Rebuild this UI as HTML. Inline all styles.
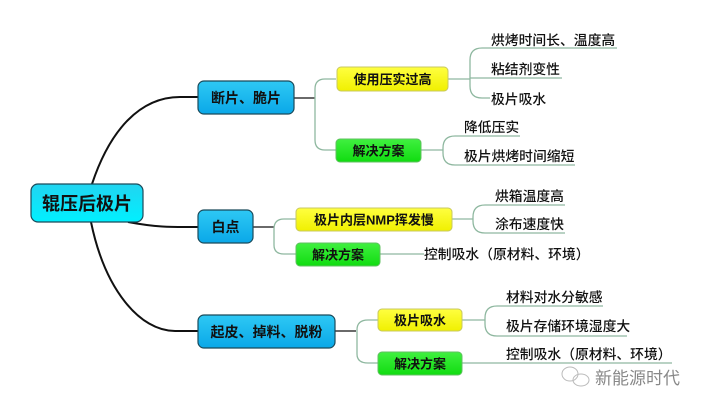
<!DOCTYPE html>
<html><head><meta charset="utf-8"><style>
html,body{margin:0;padding:0;background:#fff;}
svg{display:block;}
text{font-family:"Liberation Sans","Noto Sans CJK SC",sans-serif;fill:#111;}
.b{font-weight:bold;}
</style></head><body>
<svg width="702" height="406" viewBox="0 0 702 406" xmlns="http://www.w3.org/2000/svg">
<defs>
<linearGradient id="gr" x1="0" y1="0" x2="0" y2="1"><stop offset="0" stop-color="#22d4f0"/><stop offset="1" stop-color="#00f0ff"/></linearGradient>
<linearGradient id="gb" x1="0" y1="0" x2="0" y2="1"><stop offset="0" stop-color="#2ec8f4"/><stop offset="1" stop-color="#0aa8e8"/></linearGradient>
<linearGradient id="gy" x1="0" y1="0" x2="0" y2="1"><stop offset="0" stop-color="#ffff40"/><stop offset="1" stop-color="#f0f000"/></linearGradient>
<linearGradient id="gg" x1="0" y1="0" x2="0" y2="1"><stop offset="0" stop-color="#40f040"/><stop offset="1" stop-color="#10dc10"/></linearGradient>
</defs>
<g fill="none" stroke="#111" stroke-width="2">
<path d="M92,184 C110,130 140,97 180,97 L198,97"/>
<path d="M128,222 C160,228 175,227 198,227"/>
<path d="M91,222 C105,290 140,331 175,331 L198,331"/>
</g>
<g fill="none" stroke="#111" stroke-width="1.3">
<path d="M294,98 L315,98"/>
<path d="M253,227 L274,227"/>
<path d="M335,331 L356,331"/>
</g>
<g fill="none" stroke="#8fb8a0" stroke-width="1.3">
<path d="M336,79 L325,79 Q315,79 315,89 L315,140 Q315,150 325,150 L336,150"/>
<path d="M296,219 L284,219 Q274,219 274,229 L274,245 Q274,254 284,254 L296,254"/>
<path d="M378,320 L368,320 Q357,320 357,330 L357,354 Q357,363 368,363 L378,363"/>
<path d="M448,79 L470,79"/>
<path d="M617,48 L482,48 Q470,48 470,60 L470,86 Q470,98 482,98 L490,98"/>
<path d="M470,78 L562,78"/>
<path d="M421,150 L443,150"/>
<path d="M520,136 L455,136 Q443,136 443,148 L443,153 Q443,165 455,165 L575,165"/>
<path d="M452,219 L473,219"/>
<path d="M565,205 L485,205 Q473,205 473,217 L473,221 Q473,233 485,233 L565,233"/>
<path d="M380,254 L424,254"/>
<path d="M462,320 L485,320"/>
<path d="M603,306 L497,306 Q485,306 485,318 L485,324 Q485,336 497,336 L627,336"/>
<path d="M462,363 L672,363"/>
</g>
<rect x="31" y="184" width="112" height="38" rx="7" fill="url(#gr)" stroke="#1a4a5a" stroke-width="1.2"/>
<text x="87" y="210" font-size="18" text-anchor="middle" class="b">辊压后极片</text>
<rect x="198" y="81" width="96" height="33" rx="6" fill="url(#gb)" stroke="#1a4a5a" stroke-width="1.2"/>
<text x="246" y="103" font-size="14" text-anchor="middle" class="b">断片、脆片</text>
<rect x="198" y="210" width="55" height="33" rx="6" fill="url(#gb)" stroke="#1a4a5a" stroke-width="1.2"/>
<text x="225.5" y="232" font-size="14" text-anchor="middle" class="b">白点</text>
<rect x="198" y="315" width="137" height="33" rx="6" fill="url(#gb)" stroke="#1a4a5a" stroke-width="1.2"/>
<text x="266.5" y="337" font-size="14" text-anchor="middle" class="b">起皮、掉料、脱粉</text>
<rect x="337" y="67" width="111" height="24" rx="4" fill="url(#gy)" stroke="#c8c860"/>
<text x="392.5" y="84" font-size="13" text-anchor="middle" class="b">使用压实过高</text>
<rect x="336" y="139" width="85" height="23" rx="4" fill="url(#gg)" stroke="#60c060"/>
<text x="378.5" y="155.5" font-size="13" text-anchor="middle" class="b">解决方案</text>
<rect x="296" y="208" width="156" height="23" rx="4" fill="url(#gy)" stroke="#c8c860"/>
<text x="374" y="224.5" font-size="13" text-anchor="middle" class="b">极片内层NMP挥发慢</text>
<rect x="296" y="243" width="84" height="23" rx="4" fill="url(#gg)" stroke="#60c060"/>
<text x="338" y="259.5" font-size="13" text-anchor="middle" class="b">解决方案</text>
<rect x="378" y="309" width="84" height="22" rx="4" fill="url(#gy)" stroke="#c8c860"/>
<text x="420" y="325" font-size="13" text-anchor="middle" class="b">极片吸水</text>
<rect x="378" y="352" width="84" height="23" rx="4" fill="url(#gg)" stroke="#60c060"/>
<text x="420" y="368.5" font-size="13" text-anchor="middle" class="b">解决方案</text>
<g font-size="13.8" style="font-weight:500">
<text x="491" y="45">烘烤时间长、温度高</text>
<text x="491" y="74">粘结剂变性</text>
<text x="491" y="104">极片吸水</text>
<text x="464" y="132">降低压实</text>
<text x="464" y="161">极片烘烤时间缩短</text>
<text x="495" y="201">烘箱温度高</text>
<text x="495" y="229">涂布速度快</text>
<text x="424" y="259">控制吸水（原材料、环境）</text>
<text x="506" y="302">材料对水分敏感</text>
<text x="506" y="331">极片存储环境湿度大</text>
<text x="506" y="359">控制吸水（原材料、环境）</text>
</g>
<g fill="none" stroke="#bbb" stroke-width="1">
<ellipse cx="570" cy="374" rx="8" ry="7"/>
<ellipse cx="581" cy="380" rx="8" ry="6"/>
</g>
<text x="595" y="384" font-size="17" style="fill:#888">新能源时代</text>
</svg>
</body></html>
